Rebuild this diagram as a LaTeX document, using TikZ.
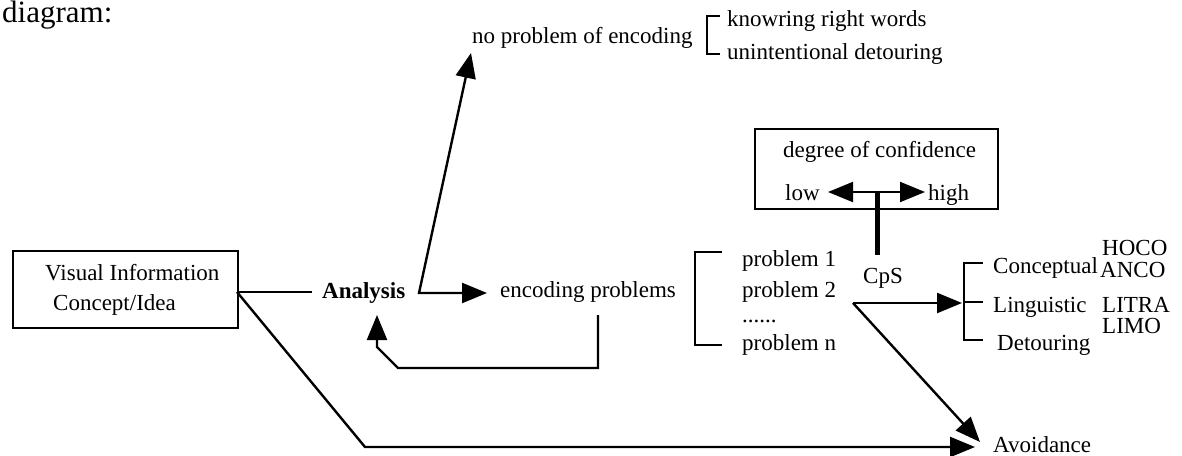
\documentclass[tikz,border=0pt]{standalone}
\usepackage{fontspec}
\setmainfont{Liberation Serif}
\usetikzlibrary{arrows.meta,calc}
\begin{document}
\begin{tikzpicture}[x=1pt,y=-1pt,
  txt/.style={anchor=base west, inner sep=0pt, font=\fontsize{23}{27}\selectfont},
  ln/.style={line width=2.4pt},
  brk/.style={line width=2pt},
  frame/.style={draw, line width=2pt, anchor=north west, inner sep=0pt},
  tipA/.tip={Triangle[length=25pt,width=20pt]},
  tipW/.tip={Triangle[length=31pt,width=27pt]}]
\useasboundingbox (0,0) rectangle (1182,455);

% texts
\node[txt, font=\fontsize{31}{34}\selectfont] (title) at (2,22) {diagram:};
\node[frame, minimum width=225pt, minimum height=77pt] (vbox) at (12,250) {};
\node[txt] (vis) at (45,280) {Visual Information};
\node[txt] (cpt) at (53,310) {Concept/Idea};
\node[txt, font=\fontsize{23}{27}\selectfont\bfseries] (ana) at (322,298) {Analysis};
\node[txt] (enc) at (500,297) {encoding problems};
\node[txt] (nope) at (472,43) {no problem of encoding};
\node[txt] (know) at (727,27) {knowring right words};
\node[txt] (unint) at (727,59) {unintentional detouring};
\node[txt] (p1) at (742,266) {problem 1};
\node[txt] (p2) at (742,297) {problem 2};
\node[txt] (pd) at (742,322) {......};
\node[txt] (pn) at (742,350) {problem n};
\node[frame, minimum width=243pt, minimum height=80pt] (conf) at (754,128) {};
\node[txt] (deg) at (783,157) {degree of confidence};
\node[txt] (low) at (785,200) {low};
\node[txt] (high) at (928,200) {high};
\node[txt] (cps) at (863,283) {CpS};
\node[txt] (concept) at (993,273) {Conceptual};
\node[txt] (ling) at (993,312) {Linguistic};
\node[txt] (detour) at (997,350) {Detouring};
\node[txt] (hoco) at (1102,255) {HOCO};
\node[txt] (anco) at (1100,277) {ANCO};
\node[txt] (litra) at (1102,312) {LITRA};
\node[txt] (limo) at (1102,333) {LIMO};
\node[txt] (avoid) at (993,452) {Avoidance};

% coordinates
\coordinate (bxE) at (237,292);
\coordinate (anaW) at (312,292);
\coordinate (anaC) at (419,293);
\coordinate (tUp) at (471,53);
\coordinate (tEnc) at (487,293);
\coordinate (r1) at (598,315);
\coordinate (r2) at (598,368);
\coordinate (r3) at (398,368);
\coordinate (r4) at (377,347);
\coordinate (tAna) at (377,315);
\coordinate (d1) at (365,447);
\coordinate (tAv1) at (975,447);
\coordinate (tC) at (877,192);
\coordinate (tLow) at (828,192);
\coordinate (tHigh) at (925,192);
\coordinate (tBot) at (877,255);
\coordinate (cpsO) at (853,303);
\coordinate (tBr) at (962,303);
\coordinate (tAv2) at (980,442);
\coordinate (dMid) at ($(cpsO)!0.6!(tAv2)$);

% connectors
\draw[ln] (bxE) -- (anaW);
\draw[ln, tipA-tipA] (tUp) -- (anaC) -- (tEnc);
\draw[ln, -tipA] (r1) -- (r2) -- (r3) -- (r4) -- (tAna);
\draw[ln, -tipA] (bxE) -- (d1) -- (tAv1);
\draw[line width=5pt, draw=white, -tipW] (dMid) -- (tAv2);
\draw[ln, -tipA] (cpsO) -- (tAv2);
\draw[ln, -tipA] (cpsO) -- (tBr);
\draw[line width=2pt, tipA-tipA] (tLow) -- (tHigh);
\draw[line width=5pt] (tC) -- (tBot);

% brackets
\draw[brk] (722,252) -| (695,345) -- (722,345);
\draw[brk] (983,263) -| (964,340) -- (983,340);
\draw[brk] (964,302) -- (983,302);
\draw[brk] (720,16) -| (707,54) -- (720,54);
\end{tikzpicture}
\end{document}
